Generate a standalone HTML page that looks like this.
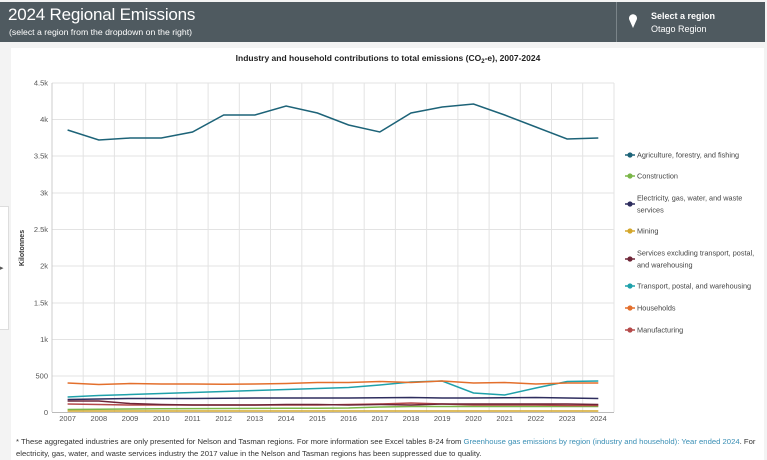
<!DOCTYPE html>
<html><head><meta charset="utf-8"><style>
body{margin:0;width:767px;height:460px;background:#f3f3f3;font-family:"Liberation Sans",sans-serif;overflow:hidden;position:relative}
.hdr{position:absolute;left:0;top:2px;width:765px;height:40px;background:#4f5a60;color:#fff}
.card{position:absolute;left:11px;top:48px;width:753px;height:412px;background:#fff}
.tab{position:absolute;left:-1px;top:206px;width:8px;height:122px;background:#fff;border:1px solid #ddd}
</style></head><body>
<div class="hdr">
<div style="position:absolute;left:8px;top:3px;font-size:17px;letter-spacing:-0.2px">2024 Regional Emissions</div>
<div style="position:absolute;left:9px;top:25px;font-size:8.7px;">(select a region from the dropdown on the right)</div>
<div style="position:absolute;left:616px;top:0;width:1px;height:40px;background:#7a8489"></div>
<svg style="position:absolute;left:628px;top:11px" width="10" height="16"><path d="M5 15 L1.2 6.5 A4 4 0 1 1 8.8 6.5 Z" fill="#fff"/></svg>
<div style="position:absolute;left:651px;top:9px;font-size:9px;font-weight:bold">Select a region</div>
<div style="position:absolute;left:651px;top:22px;font-size:9px;">Otago Region</div>
</div>
<div class="card"></div>
<div class="tab"></div>
<div style="position:absolute;left:0;top:264px;font-size:7px;color:#555">▸</div>
<svg style="position:absolute;left:0;top:0" width="767" height="460" font-family="Liberation Sans, sans-serif">
<text x="388" y="61" font-size="8.5" font-weight="bold" text-anchor="middle" fill="#222">Industry and household contributions to total emissions (CO<tspan font-size="6" dy="2">2</tspan><tspan dy="-2">-e), 2007-2024</tspan></text>
<g stroke="#e3e3e3" stroke-width="1">
<line x1="52" y1="83" x2="614" y2="83"/><line x1="52" y1="119.5" x2="614" y2="119.5"/><line x1="52" y1="156" x2="614" y2="156"/><line x1="52" y1="193" x2="614" y2="193"/><line x1="52" y1="229.5" x2="614" y2="229.5"/><line x1="52" y1="266" x2="614" y2="266"/><line x1="52" y1="303" x2="614" y2="303"/><line x1="52" y1="339.5" x2="614" y2="339.5"/><line x1="52" y1="376" x2="614" y2="376"/>
<line x1="83.2" y1="83" x2="83.2" y2="412"/><line x1="114.4" y1="83" x2="114.4" y2="412"/><line x1="145.7" y1="83" x2="145.7" y2="412"/><line x1="176.9" y1="83" x2="176.9" y2="412"/><line x1="208.1" y1="83" x2="208.1" y2="412"/><line x1="239.3" y1="83" x2="239.3" y2="412"/><line x1="270.5" y1="83" x2="270.5" y2="412"/><line x1="301.8" y1="83" x2="301.8" y2="412"/><line x1="333" y1="83" x2="333" y2="412"/><line x1="364.2" y1="83" x2="364.2" y2="412"/><line x1="395.4" y1="83" x2="395.4" y2="412"/><line x1="426.6" y1="83" x2="426.6" y2="412"/><line x1="457.9" y1="83" x2="457.9" y2="412"/><line x1="489.1" y1="83" x2="489.1" y2="412"/><line x1="520.3" y1="83" x2="520.3" y2="412"/><line x1="551.5" y1="83" x2="551.5" y2="412"/><line x1="582.7" y1="83" x2="582.7" y2="412"/><line x1="614" y1="83" x2="614" y2="412"/>
</g>
<line x1="52" y1="83" x2="52" y2="412" stroke="#ccc"/>
<line x1="52" y1="412.5" x2="614" y2="412.5" stroke="#bbb"/>
<g font-size="7.5" fill="#555" text-anchor="end">
<text x="48" y="85.5">4.5k</text><text x="48" y="122">4k</text><text x="48" y="158.5">3.5k</text><text x="48" y="195.5">3k</text><text x="48" y="232">2.5k</text><text x="48" y="268.5">2k</text><text x="48" y="305.5">1.5k</text><text x="48" y="342">1k</text><text x="48" y="378.5">500</text><text x="48" y="415">0</text>
</g>
<text transform="translate(24,248) rotate(-90)" font-size="7" font-weight="bold" text-anchor="middle" fill="#333">Kilotonnes</text>
<g font-size="7.5" fill="#555" text-anchor="middle">
<text x="67.6" y="421">2007</text><text x="98.8" y="421">2008</text><text x="130" y="421">2009</text><text x="161.3" y="421">2010</text><text x="192.5" y="421">2011</text><text x="223.7" y="421">2012</text><text x="254.9" y="421">2013</text><text x="286.1" y="421">2014</text><text x="317.4" y="421">2015</text><text x="348.6" y="421">2016</text><text x="379.8" y="421">2017</text><text x="411" y="421">2018</text><text x="442.2" y="421">2019</text><text x="473.5" y="421">2020</text><text x="504.7" y="421">2021</text><text x="535.9" y="421">2022</text><text x="567.1" y="421">2023</text><text x="598.3" y="421">2024</text>
</g>
<g fill="none" stroke-width="1.5">
<polyline stroke="#d4a72c" points="67.6,411 598.3,411"/>
<polyline stroke="#7ab648" points="67.6,409.5 98.8,409.3 130,409 161.3,408.8 192.5,408.6 223.7,408.5 254.9,408.4 286.1,408.3 317.4,408.2 348.6,408 379.8,407 411,406.5 442.2,406.5 473.5,406.5 504.7,406.5 535.9,406.5 567.1,406.5 598.3,406.5"/>
<polyline stroke="#b54a4a" points="67.6,404 98.8,404.5 130,405 161.3,405 192.5,405 223.7,405 254.9,405 286.1,405 317.4,405 348.6,404.5 379.8,404 411,403 442.2,404 473.5,405 504.7,405 535.9,405 567.1,405.5 598.3,405.5"/>
<polyline stroke="#6e2537" points="67.6,401 98.8,401 130,403.5 161.3,404.5 192.5,405 223.7,405 254.9,405 286.1,404.5 317.4,404.5 348.6,405 379.8,404.5 411,405 442.2,404 473.5,404 504.7,404 535.9,404 567.1,404 598.3,404.5"/>
<polyline stroke="#2e2d5e" points="67.6,399.5 98.8,399 130,398.5 161.3,398.5 192.5,398.5 223.7,398.2 254.9,398 286.1,398 317.4,398 348.6,398 379.8,397.8 411,397.5 442.2,398 473.5,398 504.7,397.8 535.9,397.5 567.1,398 598.3,398.5"/>
<polyline stroke="#1fa1aa" points="67.6,397 98.8,395.5 130,394.5 161.3,393.5 192.5,392.5 223.7,391.5 254.9,390.5 286.1,389.5 317.4,388.5 348.6,387.5 379.8,385 411,382 442.2,381 473.5,393 504.7,395 535.9,388 567.1,381.5 598.3,381"/>
<polyline stroke="#e36f2c" points="67.6,383 98.8,384.5 130,383.5 161.3,384 192.5,384 223.7,384.3 254.9,384 286.1,383.5 317.4,382.5 348.6,382.5 379.8,381.5 411,382.5 442.2,381 473.5,383 504.7,382.5 535.9,384 567.1,383 598.3,383"/>
<polyline stroke="#1d6378" points="67.6,130 98.8,140 130,138 161.3,138 192.5,132 223.7,115 254.9,115 286.1,106 317.4,113 348.6,125 379.8,132 411,113 442.2,107 473.5,104 504.7,115 535.9,127 567.1,139 598.3,138"/>
</g>
<g font-size="7.3" fill="#444">
<line x1="625" y1="155" x2="635" y2="155" stroke="#1d6378" stroke-width="1.5"/><circle cx="630" cy="155" r="2.6" fill="#1d6378"/><text x="637" y="157.5">Agriculture, forestry, and fishing</text>
<line x1="625" y1="176" x2="635" y2="176" stroke="#7ab648" stroke-width="1.5"/><circle cx="630" cy="176" r="2.6" fill="#7ab648"/><text x="637" y="178.5">Construction</text>
<line x1="625" y1="204" x2="635" y2="204" stroke="#2e2d5e" stroke-width="1.5"/><circle cx="630" cy="204" r="2.6" fill="#2e2d5e"/><text x="637" y="200.5">Electricity, gas, water, and waste</text><text x="637" y="212.5">services</text>
<line x1="625" y1="231" x2="635" y2="231" stroke="#d4a72c" stroke-width="1.5"/><circle cx="630" cy="231" r="2.6" fill="#d4a72c"/><text x="637" y="233.5">Mining</text>
<line x1="625" y1="259" x2="635" y2="259" stroke="#6e2537" stroke-width="1.5"/><circle cx="630" cy="259" r="2.6" fill="#6e2537"/><text x="637" y="255.5">Services excluding transport, postal,</text><text x="637" y="267.5">and warehousing</text>
<line x1="625" y1="286" x2="635" y2="286" stroke="#1fa1aa" stroke-width="1.5"/><circle cx="630" cy="286" r="2.6" fill="#1fa1aa"/><text x="637" y="288.5">Transport, postal, and warehousing</text>
<line x1="625" y1="308" x2="635" y2="308" stroke="#e36f2c" stroke-width="1.5"/><circle cx="630" cy="308" r="2.6" fill="#e36f2c"/><text x="637" y="310.5">Households</text>
<line x1="625" y1="330" x2="635" y2="330" stroke="#b54a4a" stroke-width="1.5"/><circle cx="630" cy="330" r="2.6" fill="#b54a4a"/><text x="637" y="332.5">Manufacturing</text>
</g>
<g font-size="7.7" fill="#333">
<text x="16" y="444">* These aggregated industries are only presented for Nelson and Tasman regions. For more information see Excel tables 8-24 from <tspan fill="#3a8fb5">Greenhouse gas emissions by region (industry and household): Year ended 2024</tspan>. For</text>
<text x="16" y="456">electricity, gas, water, and waste services industry the 2017 value in the Nelson and Tasman regions has been suppressed due to quality.</text>
</g>
</svg>
</body></html>
